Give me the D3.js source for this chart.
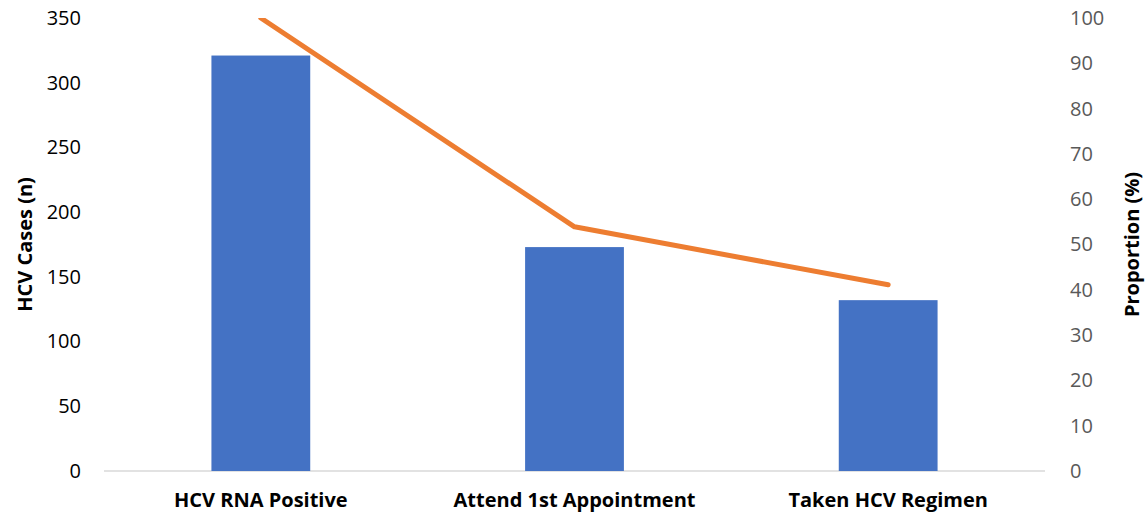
<!DOCTYPE html>
<html>
<head>
<meta charset="utf-8">
<script src="https://cdnjs.cloudflare.com/ajax/libs/d3/7.8.5/d3.min.js"></script>
<style>
  body { margin: 0; background: #fff; }
  svg, svg text { font-family: "Open Sans", "Noto Sans", sans-serif; }
</style>
</head>
<body>
<svg width="1148" height="516"></svg>
<script>
var categories = ["HCV RNA Positive", "Attend 1st Appointment", "Taken HCV Regimen"];
var cases = [321, 173, 132];
var proportion = [100, 53.9, 41.1];
var leftTicks = [0, 50, 100, 150, 200, 250, 300, 350];
var rightTicks = [0, 10, 20, 30, 40, 50, 60, 70, 80, 90, 100];

var svg = d3.select("svg"),
  margin = { top: 18, right: 103, bottom: 45, left: 104 },
  width = +svg.attr("width") - margin.left - margin.right,
  height = +svg.attr("height") - margin.top - margin.bottom;

var g = svg.append("g").attr("transform", "translate(" + margin.left + "," + margin.top + ")");

var x = d3.scaleBand().domain(categories).range([0, width]);
var yLeft = d3.scaleLinear().domain([0, 350]).range([height, 0]);
var yRight = d3.scaleLinear().domain([0, 100]).range([height, 0]);

var barW = x.bandwidth() * 0.315;

// baseline
g.append("line")
  .attr("x1", 0)
  .attr("x2", width)
  .attr("y1", yLeft(0))
  .attr("y2", yLeft(0))
  .attr("stroke", "#d9d9d9")
  .attr("stroke-width", 1.5);

// bars
g.selectAll("rect.bar")
  .data(cases)
  .enter()
  .append("rect")
  .attr("class", "bar")
  .attr("x", function (d, i) { return x(categories[i]) + x.bandwidth() / 2 - barW / 2; })
  .attr("width", barW)
  .attr("y", function (d) { return yLeft(d); })
  .attr("height", function (d) { return yLeft(0) - yLeft(d); })
  .attr("fill", "#4472C4");

// proportion line (clipped at the plot top like the original)
svg.append("clipPath").attr("id", "plotclip")
  .append("rect")
  .attr("x", 0).attr("y", 0).attr("width", width).attr("height", height + 10);

var line = d3.line()
  .x(function (d, i) { return x(categories[i]) + x.bandwidth() / 2; })
  .y(function (d) { return yRight(d); });

g.append("path")
  .datum(proportion)
  .attr("clip-path", "url(#plotclip)")
  .attr("d", line)
  .attr("fill", "none")
  .attr("stroke", "#ED7D31")
  .attr("stroke-width", 5)
  .attr("stroke-linecap", "round")
  .attr("stroke-linejoin", "round");

// left axis
var left = g.append("g")
  .call(d3.axisLeft(yLeft).tickValues(leftTicks).tickSize(0).tickPadding(23))
  .attr("font-family", null);
left.select(".domain").remove();
left.selectAll("text").attr("font-size", 20).attr("fill", "#000");

// right axis
var right = g.append("g")
  .attr("transform", "translate(" + width + ",0)")
  .call(d3.axisRight(yRight).tickValues(rightTicks).tickSize(0).tickPadding(25))
  .attr("font-family", null);
right.select(".domain").remove();
right.selectAll("text").attr("font-size", 20).attr("fill", "#595959");

// category labels
var bottom = g.append("g")
  .attr("transform", "translate(0," + height + ")")
  .call(d3.axisBottom(x).tickSize(0).tickPadding(22))
  .attr("font-family", null);
bottom.select(".domain").remove();
bottom.selectAll("text")
  .attr("font-size", 20)
  .attr("font-weight", "bold")
  .attr("fill", "#000");

// axis titles
svg.append("text")
  .attr("transform", "translate(32," + (margin.top + height / 2) + ") rotate(-90)")
  .attr("text-anchor", "middle")
  .attr("font-size", 20)
  .attr("font-weight", "bold")
  .text("HCV Cases (n)");

svg.append("text")
  .attr("transform", "translate(1139," + (margin.top + height / 2) + ") rotate(-90)")
  .attr("text-anchor", "middle")
  .attr("font-size", 20)
  .attr("font-weight", "bold")
  .text("Proportion (%)");
</script>
</body>
</html>
